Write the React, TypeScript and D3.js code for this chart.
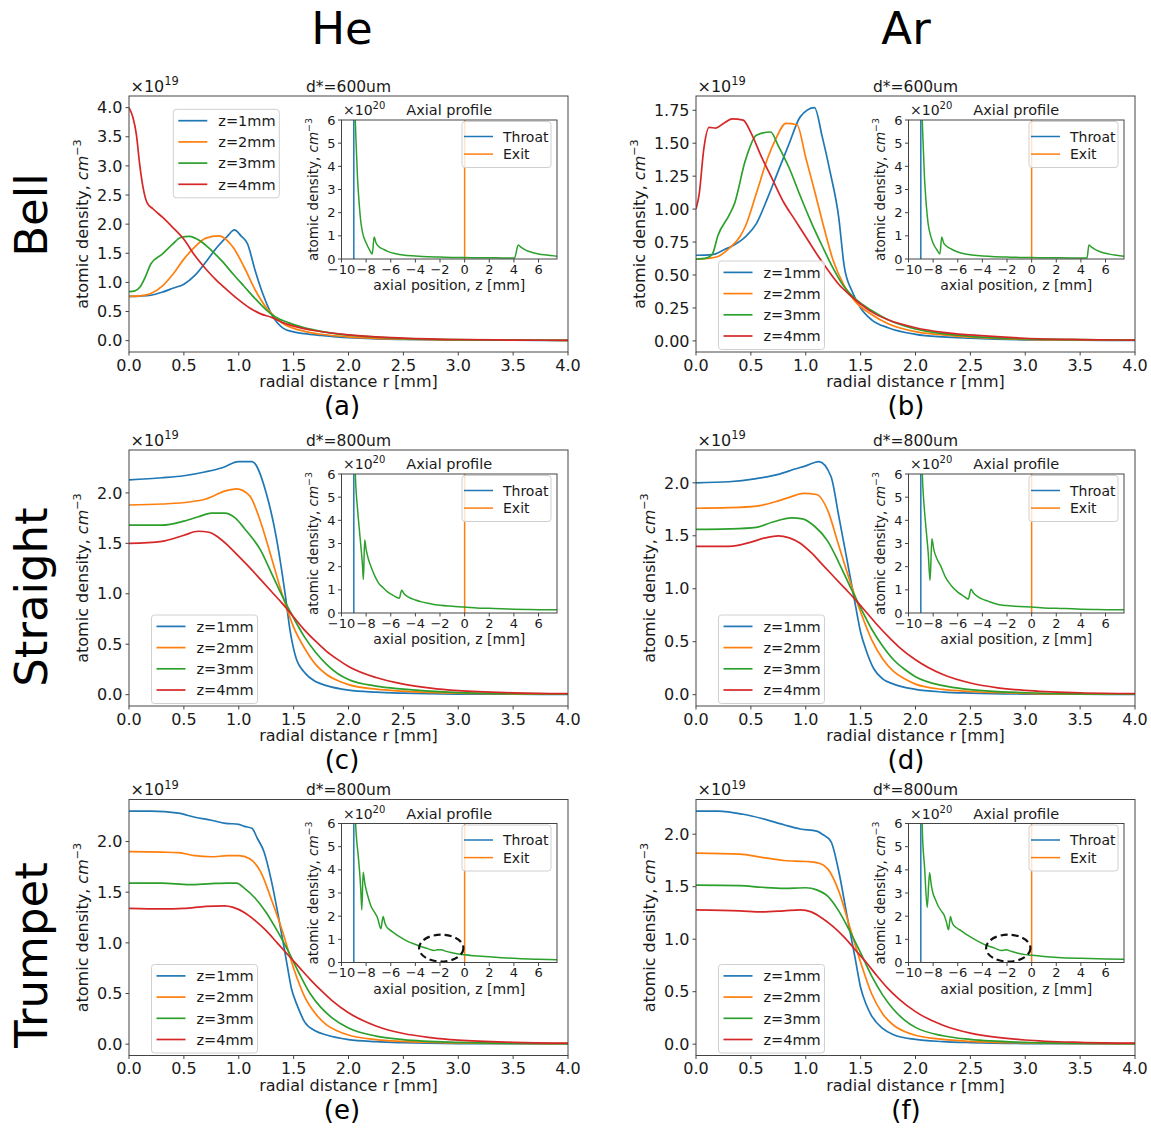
import * as d3 from "d3";

type Pt = [number, number];

// ---- labels ----
const gases = ["He", "Ar"];
const nozzles = ["Bell", "Straight", "Trumpet"];
const panelTags = ["(a)", "(b)", "(c)", "(d)", "(e)", "(f)"];
const throatSizes = ["d*=600um", "d*=600um", "d*=800um", "d*=800um", "d*=800um", "d*=800um"];
const seriesLabels = ["z=1mm", "z=2mm", "z=3mm", "z=4mm"];
const insetLabels = ["Throat", "Exit"];
const colors = ["#1f77b4", "#ff7f0e", "#2ca02c", "#d62728"];

// ---- ticks ----
const radialTicks = [0, 0.5, 1, 1.5, 2, 2.5, 3, 3.5, 4];
const densityTicksHalf = [0, 0.5, 1, 1.5, 2, 2.5, 3, 3.5, 4];
const densityTicksQuarter = [0, 0.25, 0.5, 0.75, 1, 1.25, 1.5, 1.75];
const densityTicksLow = [0, 0.5, 1, 1.5, 2];
const axialTicks = [-10, -8, -6, -4, -2, 0, 2, 4, 6];
const axialDensityTicks = [0, 1, 2, 3, 4, 5, 6];
const axialRange = [-10, 7.5];
const throatZ = -9.0;
const exitZ = 0;

// ---- radial profiles (x1e19 cm^-3) ----
const heBell1: Pt[] = [[0,0.76],[0.1,0.765],[0.2,0.78],[0.3,0.83],[0.4,0.9],[0.5,0.97],[0.6,1.12],[0.7,1.35],[0.8,1.6],[0.9,1.8],[0.96,1.9],[1.02,1.8],[1.08,1.66],[1.15,1.2],[1.22,0.8],[1.3,0.45],[1.4,0.22],[1.5,0.15],[1.6,0.12],[1.75,0.09],[2.0,0.05],[2.25,0.03],[2.5,0.02],[3.0,0.01],[3.5,0.007],[4.0,0.005]];
const heBell2: Pt[] = [[0,0.76],[0.1,0.77],[0.2,0.81],[0.3,0.93],[0.4,1.14],[0.5,1.4],[0.6,1.61],[0.7,1.76],[0.82,1.8],[0.9,1.71],[0.95,1.6],[1.05,1.26],[1.15,0.87],[1.25,0.57],[1.33,0.41],[1.4,0.3],[1.5,0.21],[1.6,0.16],[1.75,0.11],[2.0,0.065],[2.25,0.04],[2.5,0.027],[3.0,0.013],[3.5,0.008],[4.0,0.006]];
const heBell3: Pt[] = [[0,0.84],[0.05,0.85],[0.1,0.92],[0.15,1.1],[0.2,1.32],[0.3,1.48],[0.4,1.66],[0.47,1.77],[0.55,1.79],[0.65,1.71],[0.75,1.55],[0.85,1.36],[0.95,1.14],[1.05,0.93],[1.15,0.72],[1.25,0.53],[1.33,0.41],[1.45,0.31],[1.6,0.22],[1.75,0.16],[2.0,0.095],[2.25,0.06],[2.5,0.036],[3.0,0.016],[3.5,0.009],[4.0,0.006]];
const heBell4: Pt[] = [[0,4.0],[0.036,3.83],[0.067,3.54],[0.097,3.03],[0.128,2.63],[0.164,2.37],[0.22,2.26],[0.31,2.11],[0.4,1.94],[0.5,1.74],[0.6,1.46],[0.7,1.23],[0.8,1.03],[0.9,0.86],[1.0,0.7],[1.1,0.56],[1.2,0.46],[1.3,0.4],[1.4,0.31],[1.5,0.25],[1.7,0.17],[2.0,0.1],[2.25,0.065],[2.5,0.045],[3.0,0.02],[3.5,0.01],[4.0,0.006]];

const arBell1: Pt[] = [[0,0.65],[0.15,0.655],[0.25,0.69],[0.35,0.73],[0.45,0.79],[0.55,0.89],[0.65,1.08],[0.75,1.29],[0.85,1.5],[0.95,1.7],[1.08,1.77],[1.15,1.55],[1.22,1.29],[1.3,0.94],[1.35,0.57],[1.42,0.38],[1.5,0.25],[1.6,0.16],[1.75,0.1],[2.0,0.05],[2.25,0.03],[2.5,0.02],[3.0,0.008],[3.5,0.005],[4.0,0.004]];
const arBell2: Pt[] = [[0,0.62],[0.1,0.625],[0.2,0.64],[0.3,0.7],[0.4,0.79],[0.45,0.87],[0.55,1.12],[0.65,1.38],[0.72,1.52],[0.82,1.65],[0.92,1.64],[1.0,1.39],[1.08,1.14],[1.15,0.91],[1.25,0.61],[1.35,0.42],[1.45,0.3],[1.6,0.2],[1.75,0.13],[2.0,0.07],[2.25,0.045],[2.5,0.028],[3.0,0.012],[3.5,0.007],[4.0,0.005]];
const arBell3: Pt[] = [[0,0.62],[0.1,0.63],[0.15,0.66],[0.2,0.8],[0.3,0.95],[0.35,1.04],[0.45,1.37],[0.55,1.56],[0.68,1.585],[0.75,1.48],[0.85,1.31],[0.95,1.1],[1.05,0.9],[1.15,0.72],[1.25,0.55],[1.35,0.41],[1.45,0.32],[1.6,0.23],[1.75,0.16],[2.0,0.09],[2.25,0.055],[2.5,0.035],[3.0,0.015],[3.5,0.009],[4.0,0.006]];
const arBell4: Pt[] = [[0,1.0],[0.03,1.12],[0.07,1.45],[0.12,1.62],[0.18,1.615],[0.25,1.65],[0.33,1.685],[0.43,1.675],[0.5,1.58],[0.6,1.39],[0.7,1.22],[0.8,1.05],[0.9,0.92],[1.0,0.79],[1.1,0.66],[1.2,0.54],[1.3,0.43],[1.4,0.35],[1.5,0.28],[1.6,0.22],[1.75,0.16],[2.0,0.1],[2.25,0.065],[2.5,0.045],[3.0,0.02],[3.5,0.01],[4.0,0.006]];

const heStraight1: Pt[] = [[0,2.13],[0.3,2.15],[0.5,2.17],[0.7,2.21],[0.85,2.25],[1.0,2.31],[1.12,2.31],[1.25,2.0],[1.35,1.51],[1.42,1.02],[1.47,0.62],[1.52,0.37],[1.6,0.22],[1.7,0.13],[1.8,0.09],[2.0,0.045],[2.25,0.025],[2.5,0.015],[3.0,0.006],[3.5,0.004],[4.0,0.003]];
const heStraight2: Pt[] = [[0,1.88],[0.3,1.89],[0.55,1.91],[0.7,1.94],[0.88,2.02],[0.98,2.04],[1.1,1.97],[1.2,1.71],[1.3,1.35],[1.4,0.98],[1.5,0.67],[1.6,0.46],[1.7,0.3],[1.8,0.2],[1.9,0.14],[2.0,0.1],[2.25,0.055],[2.5,0.035],[3.0,0.014],[3.5,0.008],[4.0,0.005]];
const heStraight3: Pt[] = [[0,1.68],[0.3,1.68],[0.5,1.72],[0.65,1.77],[0.75,1.8],[0.87,1.8],[0.97,1.75],[1.05,1.65],[1.2,1.43],[1.3,1.2],[1.4,0.97],[1.5,0.76],[1.6,0.57],[1.7,0.42],[1.8,0.3],[1.9,0.21],[2.0,0.15],[2.25,0.085],[2.5,0.055],[3.0,0.02],[3.5,0.01],[4.0,0.006]];
const heStraight4: Pt[] = [[0,1.5],[0.3,1.52],[0.5,1.58],[0.63,1.62],[0.73,1.61],[0.8,1.57],[0.9,1.48],[1.0,1.37],[1.1,1.26],[1.2,1.14],[1.3,1.02],[1.4,0.9],[1.5,0.77],[1.6,0.64],[1.7,0.53],[1.8,0.43],[1.9,0.35],[2.0,0.28],[2.25,0.17],[2.5,0.105],[2.75,0.065],[3.0,0.04],[3.5,0.018],[4.0,0.01]];

const arStraight1: Pt[] = [[0,2.0],[0.3,2.01],[0.55,2.04],[0.75,2.08],[0.9,2.13],[1.0,2.16],[1.12,2.2],[1.23,2.06],[1.3,1.69],[1.38,1.25],[1.45,0.86],[1.5,0.59],[1.55,0.42],[1.62,0.245],[1.7,0.15],[1.8,0.1],[2.0,0.05],[2.25,0.025],[2.5,0.015],[3.0,0.006],[3.5,0.004],[4.0,0.003]];
const arStraight2: Pt[] = [[0,1.76],[0.3,1.765],[0.55,1.78],[0.65,1.8],[0.75,1.83],[0.87,1.87],[0.98,1.9],[1.1,1.89],[1.2,1.74],[1.3,1.41],[1.4,1.08],[1.5,0.78],[1.6,0.52],[1.7,0.34],[1.8,0.22],[1.9,0.15],[2.0,0.1],[2.25,0.05],[2.5,0.03],[3.0,0.013],[3.5,0.007],[4.0,0.005]];
const arStraight3: Pt[] = [[0,1.56],[0.3,1.565],[0.55,1.58],[0.7,1.63],[0.87,1.67],[0.97,1.66],[1.08,1.59],[1.2,1.45],[1.3,1.25],[1.4,1.03],[1.5,0.82],[1.6,0.62],[1.7,0.46],[1.8,0.33],[1.9,0.24],[2.0,0.17],[2.25,0.085],[2.5,0.048],[3.0,0.018],[3.5,0.008],[4.0,0.006]];
const arStraight4: Pt[] = [[0,1.4],[0.3,1.4],[0.5,1.44],[0.63,1.48],[0.75,1.5],[0.85,1.48],[0.95,1.43],[1.05,1.34],[1.15,1.23],[1.25,1.12],[1.35,1.01],[1.45,0.9],[1.55,0.78],[1.65,0.66],[1.75,0.55],[1.85,0.45],[2.0,0.33],[2.25,0.19],[2.5,0.11],[2.75,0.065],[3.0,0.04],[3.5,0.018],[4.0,0.01]];

const heTrumpet1: Pt[] = [[0,2.3],[0.2,2.3],[0.45,2.28],[0.6,2.24],[0.75,2.21],[0.88,2.18],[1.0,2.17],[1.05,2.15],[1.12,2.13],[1.17,2.03],[1.23,1.9],[1.3,1.6],[1.37,1.21],[1.43,0.85],[1.48,0.55],[1.53,0.39],[1.6,0.22],[1.7,0.13],[1.8,0.09],[2.0,0.045],[2.25,0.025],[2.5,0.015],[3.0,0.006],[3.5,0.004],[4.0,0.003]];
const heTrumpet2: Pt[] = [[0,1.9],[0.3,1.895],[0.45,1.89],[0.6,1.86],[0.75,1.85],[0.9,1.86],[1.0,1.86],[1.1,1.83],[1.2,1.7],[1.3,1.42],[1.4,1.11],[1.5,0.75],[1.6,0.47],[1.7,0.3],[1.8,0.19],[1.9,0.13],[2.0,0.09],[2.25,0.045],[2.5,0.027],[3.0,0.012],[3.5,0.007],[4.0,0.005]];
const heTrumpet3: Pt[] = [[0,1.59],[0.3,1.59],[0.55,1.575],[0.75,1.585],[0.9,1.59],[0.98,1.59],[1.05,1.54],[1.15,1.44],[1.25,1.3],[1.35,1.12],[1.45,0.92],[1.55,0.7],[1.65,0.5],[1.75,0.36],[1.85,0.26],[2.0,0.16],[2.25,0.08],[2.5,0.045],[3.0,0.017],[3.5,0.008],[4.0,0.006]];
const heTrumpet4: Pt[] = [[0,1.34],[0.3,1.335],[0.5,1.34],[0.7,1.36],[0.87,1.365],[0.95,1.35],[1.05,1.3],[1.15,1.22],[1.25,1.12],[1.35,1.0],[1.45,0.88],[1.55,0.76],[1.65,0.64],[1.75,0.53],[1.85,0.43],[2.0,0.31],[2.25,0.18],[2.5,0.105],[2.75,0.065],[3.0,0.04],[3.5,0.018],[4.0,0.01]];

const arTrumpet1: Pt[] = [[0,2.22],[0.2,2.22],[0.43,2.19],[0.6,2.15],[0.8,2.09],[0.95,2.05],[1.1,2.03],[1.15,2.0],[1.23,1.93],[1.3,1.65],[1.38,1.2],[1.45,0.82],[1.5,0.54],[1.55,0.38],[1.6,0.27],[1.7,0.15],[1.8,0.09],[2.0,0.045],[2.25,0.025],[2.5,0.015],[3.0,0.006],[3.5,0.004],[4.0,0.003]];
const arTrumpet2: Pt[] = [[0,1.82],[0.4,1.81],[0.6,1.78],[0.8,1.75],[1.0,1.74],[1.1,1.73],[1.2,1.67],[1.3,1.46],[1.4,1.12],[1.5,0.78],[1.6,0.48],[1.7,0.29],[1.8,0.18],[1.9,0.12],[2.0,0.085],[2.25,0.045],[2.5,0.027],[3.0,0.012],[3.5,0.007],[4.0,0.005]];
const arTrumpet3: Pt[] = [[0,1.515],[0.4,1.51],[0.6,1.495],[0.8,1.485],[1.0,1.49],[1.1,1.47],[1.2,1.41],[1.3,1.27],[1.4,1.08],[1.5,0.87],[1.6,0.65],[1.7,0.47],[1.8,0.33],[1.9,0.23],[2.0,0.16],[2.25,0.08],[2.5,0.045],[3.0,0.017],[3.5,0.008],[4.0,0.006]];
const arTrumpet4: Pt[] = [[0,1.28],[0.4,1.27],[0.6,1.26],[0.8,1.27],[0.95,1.28],[1.05,1.26],[1.15,1.2],[1.25,1.12],[1.35,1.02],[1.45,0.9],[1.55,0.78],[1.65,0.65],[1.75,0.53],[1.85,0.43],[2.0,0.31],[2.25,0.18],[2.5,0.105],[2.75,0.065],[3.0,0.04],[3.5,0.018],[4.0,0.01]];

// ---- axial profiles (x1e20 cm^-3) ----
const heBellAxial: Pt[] = [[-8.95,7.0],[-8.85,5.5],[-8.7,3.5],[-8.55,2.3],[-8.43,1.6],[-8.25,1.05],[-8.02,0.72],[-7.75,0.42],[-7.5,0.22],[-7.35,0.95],[-7.2,0.7],[-7.0,0.55],[-6.6,0.42],[-6.2,0.32],[-5.6,0.23],[-5.0,0.17],[-4.0,0.13],[-3.0,0.1],[-2.0,0.085],[-1.0,0.07],[0,0.06],[1,0.055],[2,0.05],[3,0.048],[4.05,0.045],[4.35,0.6],[4.6,0.5],[5.0,0.37],[5.5,0.28],[6.0,0.22],[6.5,0.18],[7.0,0.15],[7.5,0.12]];
const arBellAxial: Pt[] = [[-8.95,7.0],[-8.85,5.5],[-8.7,3.5],[-8.55,2.3],[-8.4,1.5],[-8.2,1.0],[-8.0,0.68],[-7.7,0.4],[-7.45,0.22],[-7.3,0.95],[-7.15,0.7],[-6.9,0.55],[-6.5,0.42],[-6.0,0.3],[-5.5,0.23],[-5.0,0.18],[-4.0,0.13],[-3.0,0.1],[-2.0,0.085],[-1,0.07],[0,0.06],[1,0.055],[2,0.05],[3,0.048],[4.0,0.046],[4.5,0.045],[4.65,0.6],[4.9,0.5],[5.3,0.37],[5.8,0.27],[6.3,0.21],[6.9,0.16],[7.5,0.12]];
const heStraightAxial: Pt[] = [[-8.95,7.0],[-8.85,5.6],[-8.7,4.5],[-8.55,3.6],[-8.43,2.9],[-8.3,2.1],[-8.22,1.45],[-8.12,3.15],[-8.0,2.75],[-7.8,2.3],[-7.6,2.0],[-7.3,1.6],[-7.0,1.3],[-6.6,1.08],[-6.26,0.91],[-5.8,0.76],[-5.3,0.64],[-5.12,0.98],[-4.9,0.82],[-4.6,0.7],[-4.0,0.56],[-3.5,0.48],[-3,0.42],[-2.5,0.37],[-2,0.33],[-1,0.29],[0,0.26],[1,0.22],[2,0.2],[3,0.18],[4,0.165],[5,0.155],[6,0.145],[7.5,0.14]];
const arStraightAxial: Pt[] = [[-8.95,7.0],[-8.85,5.6],[-8.7,4.4],[-8.55,3.5],[-8.4,2.6],[-8.25,1.41],[-8.1,3.2],[-7.95,2.75],[-7.7,2.35],[-7.36,2.0],[-7.0,1.55],[-6.54,1.19],[-6.0,0.9],[-5.5,0.72],[-5.15,0.6],[-4.92,1.02],[-4.7,0.85],[-4.4,0.72],[-4.09,0.62],[-3.5,0.5],[-2.72,0.37],[-2,0.32],[-1,0.28],[0,0.26],[1,0.22],[2,0.2],[2.72,0.19],[4,0.165],[5,0.155],[6,0.145],[7.5,0.14]];
const heTrumpetAxial: Pt[] = [[-8.95,7.0],[-8.8,5.5],[-8.64,4.6],[-8.5,3.7],[-8.43,3.1],[-8.35,2.27],[-8.24,3.9],[-8.1,3.4],[-8.0,3.15],[-7.8,2.75],[-7.62,2.45],[-7.3,2.15],[-7.07,1.92],[-6.85,1.5],[-6.8,1.46],[-6.62,1.99],[-6.5,1.75],[-6.4,1.6],[-6.1,1.42],[-5.72,1.27],[-5.2,1.08],[-4.63,0.91],[-4.0,0.78],[-3.55,0.69],[-3.0,0.6],[-2.47,0.52],[-2.2,0.55],[-1.92,0.55],[-1.5,0.48],[-1.11,0.43],[-0.5,0.37],[0,0.33],[0.8,0.29],[1.6,0.26],[3,0.21],[4.3,0.17],[6,0.14],[7.5,0.12]];
const arTrumpetAxial: Pt[] = [[-8.95,7.0],[-8.85,5.3],[-8.7,4.15],[-8.48,2.38],[-8.29,3.87],[-8.15,3.35],[-8.02,3.0],[-7.8,2.7],[-7.6,2.45],[-7.3,2.2],[-7.07,2.0],[-6.9,1.7],[-6.75,1.41],[-6.59,1.99],[-6.5,1.8],[-6.4,1.66],[-6.1,1.5],[-5.72,1.37],[-5.2,1.18],[-4.63,1.0],[-4.1,0.85],[-3.55,0.72],[-3.0,0.62],[-2.47,0.52],[-2.2,0.54],[-2.06,0.55],[-1.7,0.49],[-1.11,0.4],[-0.5,0.34],[0,0.31],[1,0.26],[2.14,0.22],[4,0.18],[6,0.15],[7.5,0.14]];

// dashed ring highlighting the bump (data units of the inset)
const bumpCenter: Pt = [-1.9, 0.62];
const bumpRadius: Pt = [1.8, 0.58];

// ---- layout ----
const FONT = "DejaVu Sans";
const colLeft = [129, 696];
const rowTop = [96, 450, 799.5];
const axW = 439;
const axH = 256;
const inDx = 212.5, inDy = 24, inW = 215.5, inH = 139;
const mainFont = 16;
const insetFont = 14;
const insetTickFont = 13;

type PanelCfg = {
  col: number; row: number; series: Pt[][]; axial: Pt[];
  ticks: number[]; fmt: string; legend: "upper" | "lower"; ring: boolean;
};

const panels: PanelCfg[] = [
  { col: 0, row: 0, series: [heBell1, heBell2, heBell3, heBell4], axial: heBellAxial, ticks: densityTicksHalf, fmt: ".1f", legend: "upper", ring: false },
  { col: 1, row: 0, series: [arBell1, arBell2, arBell3, arBell4], axial: arBellAxial, ticks: densityTicksQuarter, fmt: ".2f", legend: "lower", ring: false },
  { col: 0, row: 1, series: [heStraight1, heStraight2, heStraight3, heStraight4], axial: heStraightAxial, ticks: densityTicksLow, fmt: ".1f", legend: "lower", ring: false },
  { col: 1, row: 1, series: [arStraight1, arStraight2, arStraight3, arStraight4], axial: arStraightAxial, ticks: densityTicksLow, fmt: ".1f", legend: "lower", ring: false },
  { col: 0, row: 2, series: [heTrumpet1, heTrumpet2, heTrumpet3, heTrumpet4], axial: heTrumpetAxial, ticks: densityTicksLow, fmt: ".1f", legend: "lower", ring: true },
  { col: 1, row: 2, series: [arTrumpet1, arTrumpet2, arTrumpet3, arTrumpet4], axial: arTrumpetAxial, ticks: densityTicksLow, fmt: ".1f", legend: "lower", ring: true },
];

const frame = "#444";
const ink = "#1a1a1a";

function YLabel({ x, y, size }: { x: number; y: number; size: number }) {
  return (
    <text transform={`translate(${x},${y}) rotate(-90)`} textAnchor="middle" fontSize={size} fill={ink}>
      atomic density, <tspan fontStyle="italic">cm</tspan>
      <tspan dy={-size * 0.42} fontSize={size * 0.7}>−3</tspan>
    </text>
  );
}

function Inset({ cfg, idx }: { cfg: PanelCfg; idx: number }) {
  const left = colLeft[cfg.col] + inDx;
  const top = rowTop[cfg.row] + inDy;
  const x = d3.scaleLinear().domain(axialRange).range([left, left + inW]);
  const y = d3.scaleLinear().domain([0, 6]).range([top + inH, top]);
  const line = d3.line<Pt>().x(d => x(d[0])).y(d => y(d[1])).curve(d3.curveMonotoneX);
  const clip = `inclip${idx}`;
  const lg = { w: 89, h: 46 };
  const lgX = left + inW - 6 - lg.w;
  const lgY = top + 1.5;
  return (
    <g>
      <defs>
        <clipPath id={clip}><rect x={left} y={top} width={inW} height={inH} /></clipPath>
      </defs>
      <rect x={left} y={top} width={inW} height={inH} fill="white" />
      <g clipPath={`url(#${clip})`}>
        <line x1={x(throatZ)} x2={x(throatZ)} y1={y(0)} y2={y(6)} stroke={colors[0]} strokeWidth={1.5} />
        <line x1={x(exitZ)} x2={x(exitZ)} y1={y(0)} y2={y(6)} stroke={colors[1]} strokeWidth={1.5} />
        <path d={line(cfg.axial) || ""} fill="none" stroke={colors[2]} strokeWidth={1.5} />
      </g>
      {cfg.ring && (
        <ellipse cx={x(bumpCenter[0])} cy={y(bumpCenter[1])}
          rx={x(bumpCenter[0] + bumpRadius[0]) - x(bumpCenter[0])}
          ry={y(bumpCenter[1]) - y(bumpCenter[1] + bumpRadius[1])}
          fill="none" stroke="#111" strokeWidth={2.2} strokeDasharray="7 4" />
      )}
      <rect x={left} y={top} width={inW} height={inH} fill="none" stroke={frame} strokeWidth={1} />
      {axialTicks.map(t => (
        <g key={"ix" + t}>
          <line x1={x(t)} x2={x(t)} y1={top + inH} y2={top + inH + 3.5} stroke={frame} />
          <text x={x(t)} y={top + inH + 14.5} textAnchor="middle" fontSize={insetTickFont} fill={ink}>{d3.format("d")(t)}</text>
        </g>
      ))}
      {axialDensityTicks.map(t => (
        <g key={"iy" + t}>
          <line x1={left - 3.5} x2={left} y1={y(t)} y2={y(t)} stroke={frame} />
          <text x={left - 6} y={y(t) + 4.5} textAnchor="end" fontSize={insetTickFont} fill={ink}>{t}</text>
        </g>
      ))}
      <text x={left + inW / 2} y={top + inH + 31} textAnchor="middle" fontSize={insetFont} fill={ink}>axial position, z [mm]</text>
      <YLabel x={left - 24} y={top + inH / 2} size={13.5} />
      <text x={left + 1.5} y={top - 5} fontSize={insetFont} fill={ink}>×10<tspan dy={-6} fontSize={10}>20</tspan></text>
      <text x={left + inW / 2} y={top - 5} textAnchor="middle" fontSize={14.5} fill={ink}>Axial profile</text>
      <rect x={lgX} y={lgY} width={lg.w} height={lg.h} rx={3} fill="white" fillOpacity={0.8} stroke="#d0d0d0" />
      {insetLabels.map((name, i) => (
        <g key={name}>
          <line x1={lgX + 2} x2={lgX + 31} y1={lgY + 15 + i * 17.6} y2={lgY + 15 + i * 17.6} stroke={colors[i]} strokeWidth={1.5} />
          <text x={lgX + 41} y={lgY + 20 + i * 17.6} fontSize={insetFont} fill={ink}>{name}</text>
        </g>
      ))}
    </g>
  );
}

function Panel({ cfg, idx }: { cfg: PanelCfg; idx: number }) {
  const left = colLeft[cfg.col];
  const top = rowTop[cfg.row];
  const x = d3.scaleLinear().domain([0, 4]).range([left, left + axW]);
  const vals = cfg.series.flat().map(d => d[1]);
  const lo = d3.min(vals) as number, hi = d3.max(vals) as number;
  const pad = (hi - lo) * 0.05;
  const y = d3.scaleLinear().domain([lo - pad, hi + pad]).range([top + axH, top]);
  const line = d3.line<Pt>().x(d => x(d[0])).y(d => y(d[1])).curve(d3.curveMonotoneX);
  const fmt = d3.format(cfg.fmt);
  const clip = `clip${idx}`;
  const lgW = 106, lgH = 88.5;
  const lgX = cfg.legend === "upper" ? left + 44.3 : left + 22.5;
  const lgY = cfg.legend === "upper" ? top + 13.3 : top + axH - 2.5 - lgH;
  const yLabelOff = cfg.fmt === ".2f" ? 51 : 41;
  return (
    <g>
      <defs>
        <clipPath id={clip}><rect x={left} y={top} width={axW} height={axH} /></clipPath>
      </defs>
      <g clipPath={`url(#${clip})`}>
        {cfg.series.map((s, i) => (
          <path key={i} d={line(s) || ""} fill="none" stroke={colors[i]} strokeWidth={1.7} />
        ))}
      </g>
      <rect x={left} y={top} width={axW} height={axH} fill="none" stroke={frame} strokeWidth={1} />
      {radialTicks.map(t => (
        <g key={"x" + t}>
          <line x1={x(t)} x2={x(t)} y1={top + axH} y2={top + axH + 3.5} stroke={frame} />
          <text x={x(t)} y={top + axH + 18.5} textAnchor="middle" fontSize={mainFont} fill={ink}>{d3.format(".1f")(t)}</text>
        </g>
      ))}
      {cfg.ticks.map(t => (
        <g key={"y" + t}>
          <line x1={left - 3.5} x2={left} y1={y(t)} y2={y(t)} stroke={frame} />
          <text x={left - 6.5} y={y(t) + 5.7} textAnchor="end" fontSize={mainFont} fill={ink}>{fmt(t)}</text>
        </g>
      ))}
      <text x={left + axW / 2} y={top + axH + 35} textAnchor="middle" fontSize={mainFont} fill={ink}>radial distance r [mm]</text>
      <YLabel x={left - yLabelOff} y={top + axH / 2} size={mainFont} />
      <text x={left + 1.5} y={top - 4.5} fontSize={mainFont} fill={ink}>×10<tspan dy={-6.5} fontSize={11.5}>19</tspan></text>
      <text x={left + axW / 2} y={top - 4.5} textAnchor="middle" fontSize={15.5} fill={ink}>{throatSizes[idx]}</text>
      <Inset cfg={cfg} idx={idx} />
      <rect x={lgX} y={lgY} width={lgW} height={lgH} rx={3} fill="white" fillOpacity={0.8} stroke="#d0d0d0" />
      {seriesLabels.map((name, i) => (
        <g key={name}>
          <line x1={lgX + 5} x2={lgX + 34} y1={lgY + 11.4 + i * 21.2} y2={lgY + 11.4 + i * 21.2} stroke={colors[i]} strokeWidth={1.7} />
          <text x={lgX + 45} y={lgY + 16.6 + i * 21.2} fontSize={14.5} fill={ink}>{name}</text>
        </g>
      ))}
      <text x={cfg.col === 0 ? 342 : 906} y={top + axH + 63} textAnchor="middle" fontSize={26} fill="#000">{panelTags[idx]}</text>
    </g>
  );
}

export default function App() {
  const rowCenters = [215, 597, 955];
  return (
    <svg width={1151} height={1129} style={{ position: "absolute", left: 0, top: 0, background: "white" }}
      fontFamily={FONT}>
      <rect width={1151} height={1129} fill="white" />
      {gases.map((g, i) => (
        <text key={g} x={i === 0 ? 342 : 906} y={43.5} textAnchor="middle" fontSize={45} fill="#000">{g}</text>
      ))}
      {nozzles.map((n, i) => (
        <text key={n} transform={`translate(47,${rowCenters[i]}) rotate(-90)`} textAnchor="middle" fontSize={45} fill="#000">{n}</text>
      ))}
      {panels.map((p, i) => <Panel key={i} cfg={p} idx={i} />)}
    </svg>
  );
}
